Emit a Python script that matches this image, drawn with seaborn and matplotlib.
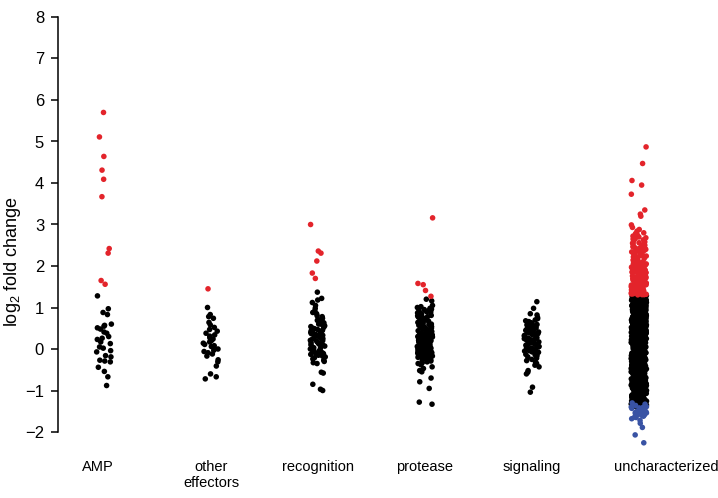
import numpy as np
import pandas as pd
import seaborn as sns
import matplotlib.pyplot as plt
from matplotlib.transforms import ScaledTranslation

categories = ["AMP", "other\neffectors", "recognition", "protease", "signaling", "uncharacterized"]

amp_up = [5.70, 5.11, 4.64, 4.31, 4.09, 3.67, 2.42, 2.31, 1.65, 1.56]
amp_ns = [1.28, 0.97, 0.88, 0.83, 0.60, 0.57, 0.55, 0.51, 0.48, 0.41, 0.38, 0.30, 0.26, 0.23,
          0.17, 0.13, 0.05, 0.02, -0.04, -0.07, -0.16, -0.19, -0.27, -0.29, -0.31, -0.44,
          -0.54, -0.67, -0.88]

oth_up = [1.45]
oth_ns = [1.00, 0.83, 0.78, 0.74, 0.64, 0.58, 0.52, 0.47, 0.43, 0.38, 0.34, 0.31, 0.27, 0.24,
          0.20, 0.17, 0.14, 0.11, 0.08, 0.06, 0.03, 0.00, -0.03, -0.06, -0.09, -0.12, -0.17,
          -0.26, -0.31, -0.41, -0.60, -0.67, -0.72]

rec_up = [3.00, 2.36, 2.31, 2.12, 1.83, 1.70]
rec_ns = [1.37, 1.22, 1.18, 1.12, 1.05, 0.98, 0.92, 0.88, 0.85, 0.80, 0.78, 0.74, 0.71, 0.69,
          0.66, 0.63, 0.61, 0.58, 0.56, 0.54, 0.52, 0.49, 0.47, 0.45, 0.43, 0.41, 0.39, 0.37,
          0.35, 0.33, 0.31, 0.29, 0.27, 0.25, 0.23, 0.21, 0.19, 0.17, 0.15, 0.13, 0.11, 0.09,
          0.07, 0.05, 0.03, 0.01, -0.01, -0.03, -0.05, -0.07, -0.09, -0.11, -0.13, -0.15,
          -0.17, -0.19, -0.21, -0.24, -0.27, -0.30, -0.33, -0.35, -0.56, -0.58, -0.85, -0.97,
          -1.00, 0.60, 0.50, 0.40, 0.30, 0.20, 0.10, 0.00, -0.10, 0.44, 0.24]

pro_up = [3.16, 1.58, 1.55, 1.41, 1.27]
pro_ns = [1.20, 1.16, 1.05, 1.02, 1.00, 0.98, 0.96, 0.95, 0.93, 0.91, 0.90, 0.88, 0.87, 0.85,
          0.84, 0.82, 0.81, 0.80, 0.78, 0.77, 0.75, 0.74, 0.73, 0.71, 0.70, 0.69, 0.67, 0.66,
          0.65, 0.63, 0.62, 0.61, 0.60, 0.58, 0.57, 0.56, 0.55, 0.53, 0.52, 0.51, 0.50, 0.49,
          0.47, 0.46, 0.45, 0.44, 0.43, 0.42, 0.40, 0.39, 0.38, 0.37, 0.36, 0.35, 0.34, 0.33,
          0.32, 0.31, 0.30, 0.29, 0.28, 0.27, 0.26, 0.25, 0.24, 0.23, 0.22, 0.21, 0.20, 0.19,
          0.18, 0.17, 0.16, 0.15, 0.14, 0.13, 0.12, 0.11, 0.10, 0.09, 0.08, 0.07, 0.06, 0.05,
          0.04, 0.03, 0.02, 0.01, 0.00, -0.01, -0.02, -0.03, -0.04, -0.05, -0.06, -0.07, -0.08,
          -0.09, -0.10, -0.11, -0.12, -0.13, -0.14, -0.16, -0.17, -0.18, -0.20, -0.21, -0.23,
          -0.24, -0.26, -0.27, -0.29, -0.31, -0.33, -0.35, -0.38, -0.43, -0.47, -0.52, -0.55,
          -0.70, -0.79, -0.95, -1.28, -1.33, 0.72, 0.64, 0.54, 0.48, 0.41, 0.35, 0.27, 0.21,
          0.15, 0.09, 0.03, -0.02, -0.09, -0.15, -0.22, 0.92, 0.83, 0.59, 0.33, 0.18, 0.06]

sig_ns = [1.14, 0.98, 0.85, 0.82, 0.76, 0.73, 0.70, 0.68, 0.66, 0.63, 0.61, 0.59, 0.57, 0.55,
          0.53, 0.51, 0.49, 0.47, 0.45, 0.43, 0.41, 0.39, 0.37, 0.35, 0.33, 0.31, 0.29, 0.27,
          0.25, 0.23, 0.21, 0.19, 0.17, 0.15, 0.13, 0.11, 0.09, 0.07, 0.05, 0.03, 0.01, -0.01,
          -0.03, -0.05, -0.07, -0.09, -0.11, -0.13, -0.16, -0.19, -0.22, -0.25, -0.28, -0.31,
          -0.35, -0.39, -0.43, -0.52, -0.56, -0.60, -0.92, -1.04, 0.64, 0.52, 0.42, 0.32, 0.22,
          0.12, 0.02, -0.08, 0.58, 0.46, 0.36, 0.26, 0.16, 0.06, -0.04, -0.14]

unc_up = [4.87, 4.47, 4.06, 3.95, 3.73, 3.35, 3.25, 3.20, 2.99, 2.93, 2.88, 2.84,
          2.80, 2.78, 2.75, 2.72, 2.70, 2.68, 2.66, 2.63, 2.61, 2.58, 2.56, 2.54, 2.52, 2.50,
          2.48, 2.46, 2.44, 2.42, 2.40, 2.38, 2.36, 2.34, 2.32, 2.30, 2.28, 2.26, 2.24, 2.22,
          2.20, 2.18, 2.16, 2.14, 2.12, 2.10, 2.65, 2.55, 2.45, 2.35, 2.25, 2.15, 2.41, 2.31, 2.21,
          2.09, 2.08, 2.07, 2.06, 2.05, 2.04, 2.03, 2.02, 2.01, 2.00, 1.99, 1.98, 1.97, 1.96,
          1.95, 1.94, 1.93, 1.92, 1.91, 1.90, 1.89, 1.88, 1.87, 1.86, 1.85, 1.84, 1.83, 1.82,
          1.81, 1.80, 1.79, 1.78, 1.77, 1.76, 1.75, 1.74, 1.73, 1.72, 1.71, 1.70, 1.69, 1.68,
          1.67, 1.66, 1.65, 1.64, 1.63, 1.62, 1.61, 1.60, 1.59, 1.58, 1.57, 1.56, 1.55, 1.54,
          1.53, 1.52, 1.51, 1.50, 1.49, 1.48, 1.47, 1.46, 1.45, 1.44, 1.43, 1.42, 1.41, 1.40,
          1.39, 1.38, 1.37, 1.36, 1.35, 1.34, 1.33, 1.32, 1.31, 2.05, 1.97, 1.92, 1.86, 1.81,
          1.76, 1.71, 1.66, 1.61, 1.57, 1.53, 1.49, 1.45, 1.42, 1.39, 1.36, 1.34, 1.32, 1.31,
          1.33, 1.35, 1.37, 1.41, 1.44, 1.47, 1.51, 1.55, 1.59, 1.63, 1.68, 1.73, 1.78, 1.84,
          1.89, 1.95, 1.305, 1.325, 1.345, 1.365, 1.385, 1.405, 1.425, 1.455, 1.485, 1.515,
          1.545, 1.575, 1.605, 1.635, 1.665, 1.695, 1.725, 1.755, 1.785, 1.815, 1.845, 1.875,
          1.905, 1.935, 1.965, 1.995, 2.035, 2.075]
unc_ns = [1.30, 1.30, 1.29, 1.28, 1.28, 1.27, 1.26, 1.26, 1.25, 1.24, 1.24, 1.23, 1.22, 1.22, 1.21, 1.20, 1.20, 1.19, 1.18, 1.18,
          1.17, 1.16, 1.16, 1.15, 1.14, 1.14, 1.13, 1.12, 1.12, 1.11, 1.10, 1.10, 1.09, 1.08, 1.08, 1.07, 1.06, 1.06, 1.05, 1.04,
          1.04, 1.03, 1.02, 1.02, 1.01, 1.00, 1.00, 0.99, 0.98, 0.98, 0.97, 0.96, 0.96, 0.95, 0.94, 0.94, 0.93, 0.92, 0.92, 0.91,
          0.90, 0.90, 0.89, 0.88, 0.88, 0.87, 0.86, 0.86, 0.85, 0.84, 0.84, 0.83, 0.82, 0.82, 0.81, 0.80, 0.80, 0.79, 0.78, 0.78,
          0.77, 0.76, 0.76, 0.75, 0.74, 0.74, 0.73, 0.72, 0.72, 0.71, 0.70, 0.70, 0.69, 0.68, 0.68, 0.67, 0.66, 0.66, 0.65, 0.64,
          0.64, 0.63, 0.62, 0.62, 0.61, 0.60, 0.60, 0.59, 0.58, 0.58, 0.57, 0.56, 0.56, 0.55, 0.54, 0.54, 0.53, 0.52, 0.52, 0.51,
          0.50, 0.50, 0.49, 0.48, 0.48, 0.47, 0.46, 0.46, 0.45, 0.44, 0.44, 0.43, 0.42, 0.42, 0.41, 0.40, 0.40, 0.39, 0.38, 0.38,
          0.37, 0.36, 0.36, 0.35, 0.34, 0.34, 0.33, 0.32, 0.32, 0.31, 0.30, 0.30, 0.29, 0.28, 0.28, 0.27, 0.26, 0.26, 0.25, 0.24,
          0.24, 0.23, 0.22, 0.22, 0.21, 0.20, 0.20, 0.19, 0.18, 0.18, 0.17, 0.16, 0.16, 0.15, 0.14, 0.14, 0.13, 0.12, 0.12, 0.11,
          0.10, 0.10, 0.09, 0.08, 0.08, 0.07, 0.06, 0.06, 0.05, 0.04, 0.04, 0.03, 0.02, 0.02, 0.01, 0.00, 0.00, -0.01, -0.02, -0.02,
          -0.03, -0.04, -0.04, -0.05, -0.06, -0.06, -0.07, -0.08, -0.08, -0.09, -0.10, -0.10, -0.11, -0.12, -0.12, -0.13, -0.14, -0.14, -0.15, -0.16,
          -0.16, -0.17, -0.18, -0.18, -0.19, -0.20, -0.20, -0.21, -0.22, -0.22, -0.23, -0.24, -0.24, -0.25, -0.26, -0.26, -0.27, -0.28, -0.28, -0.29,
          -0.30, -0.30, -0.31, -0.32, -0.32, -0.33, -0.34, -0.34, -0.35, -0.36, -0.36, -0.37, -0.38, -0.38, -0.39, -0.40, -0.40, -0.41, -0.42, -0.42,
          -0.43, -0.44, -0.44, -0.45, -0.46, -0.46, -0.47, -0.48, -0.48, -0.49, -0.50, -0.50, -0.51, -0.52, -0.52, -0.53, -0.54, -0.54, -0.55, -0.56,
          -0.56, -0.57, -0.58, -0.58, -0.59, -0.60, -0.60, -0.61, -0.62, -0.62, -0.63, -0.64, -0.64, -0.65, -0.66, -0.66, -0.67, -0.68, -0.68, -0.69,
          -0.70, -0.70, -0.71, -0.72, -0.72, -0.73, -0.74, -0.74, -0.75, -0.76, -0.76, -0.77, -0.78, -0.78, -0.79, -0.80, -0.80, -0.81, -0.82, -0.82,
          -0.83, -0.84, -0.84, -0.85, -0.86, -0.86, -0.87, -0.88, -0.88, -0.89, -0.90, -0.90, -0.91, -0.92, -0.92, -0.93, -0.94, -0.94, -0.95, -0.96,
          -0.96, -0.97, -0.98, -0.98, -0.99, -1.00, -1.00, -1.01, -1.02, -1.02, -1.03, -1.04, -1.04, -1.05, -1.06, -1.06, -1.07, -1.08, -1.08, -1.09,
          -1.10, -1.10, -1.11, -1.12, -1.12, -1.13, -1.14, -1.14, -1.15, -1.16, -1.16, -1.17, -1.18, -1.18, -1.19, -1.20, -1.20, -1.21, -1.22, -1.22,
          -1.23, -1.24, -1.24, -1.25, -1.26, -1.26, -1.27, -1.28, -1.28, -1.29, -1.30, -1.30, -1.31, -1.32, -1.32, -1.33, -1.34, -1.34, -1.35, -1.36,
          -1.36, -1.37, -1.38, -1.38,
          0.95, 0.85, 0.75, 0.65, 0.55, 0.45, 0.35, 0.25, 0.15, 0.05, -0.05, -0.15, -0.25, -0.35, -0.45,
          -0.55, -0.65, -0.75, -0.85, -0.95, 1.05, 1.15, 1.25, -1.05, -1.15, -1.25, -1.35, 0.57, 0.43,
          0.33, 0.17, 0.03, -0.13, -0.27, -0.33, -0.47, 0.67, 0.73, 0.87, 0.93, -0.67, -0.73, -0.87,
          -0.93, 1.27, 1.13, 1.07, -1.07, -1.13, -1.27, -1.33,
          1.295, 1.285, 1.265, 1.255, 1.235, 1.215, 1.195, 1.175, 1.165, 1.145, 1.125, 1.105, 1.095,
          1.075, 1.055, 1.035, 1.015, 0.995, 0.985, 0.965, 0.945, 0.925, 0.905, 0.895, 0.875, 0.855,
          0.835, 0.815, 0.805, 0.785, 0.765, 0.745, 0.725, 0.715, 0.695, 0.675, 0.655, 0.635, 0.625,
          0.605, 0.585, 0.565, 0.545, 0.535, 0.515, 0.495, 0.475, 0.455, 0.445, 0.425, 0.405, 0.385,
          0.365, 0.355, 0.335, 0.315, 0.295, 0.275, 0.265, 0.245, 0.225, 0.205, 0.185, 0.175, 0.155,
          0.135, 0.115, 0.095, 0.085, 0.065, 0.045, 0.025, 0.005, -0.005, -0.025, -0.045, -0.065,
          -0.085, -0.095, -0.115, -0.135, -0.155, -0.175, -0.185, -0.205, -0.225, -0.245, -0.265,
          -0.275, -0.295, -0.315, -0.335, -0.355, -0.365, -0.385, -0.405, -0.425, -0.445, -0.455,
          -0.475, -0.495, -0.515, -0.535, -0.545, -0.565, -0.585, -0.605, -0.625, -0.635, -0.655,
          -0.675, -0.695, -0.715, -0.725, -0.745, -0.765, -0.785, -0.805, -0.815, -0.835, -0.855,
          -0.875, -0.895, -0.905, -0.925, -0.945, -0.965, -0.985, -0.995, -1.015, -1.035, -1.055,
          -1.075, -1.085, -1.105, -1.125, -1.145, -1.165, -1.175, -1.195, -1.215, -1.235, -1.255,
          -1.265, -1.285, -1.305, -1.325, -1.345, -1.355, -1.375]
unc_down = [-1.30, -1.33, -1.36, -1.39, -1.40, -1.41, -1.42, -1.43, -1.44, -1.45, -1.46, -1.47,
            -1.48, -1.49, -1.50, -1.51, -1.52, -1.53, -1.54, -1.56, -1.58, -1.60, -1.62, -1.65,
            -1.68, -1.72, -1.79, -1.89, -2.07, -2.26, -1.41, -1.44, -1.47, -1.50, -1.55, -1.59, -1.64]

rows = []
def add(cat, vals, status):
    rows.extend((cat, v, status) for v in vals)

add(categories[0], amp_ns, "ns"); add(categories[0], amp_up, "up")
add(categories[1], oth_ns, "ns"); add(categories[1], oth_up, "up")
add(categories[2], rec_ns, "ns"); add(categories[2], rec_up, "up")
add(categories[3], pro_ns, "ns"); add(categories[3], pro_up, "up")
add(categories[4], sig_ns, "ns")
add(categories[5], unc_ns, "ns"); add(categories[5], unc_up, "up"); add(categories[5], unc_down, "down")
df = pd.DataFrame(rows, columns=["category", "log2fc", "status"])

sns.set_theme(style="ticks")
plt.rcParams['font.family'] = ['Liberation Sans', 'DejaVu Sans']
plt.rcParams['mathtext.default'] = 'regular'

fig = plt.figure(figsize=(7.18, 4.98), dpi=100)
ax = fig.add_axes([58 / 718, 1 - 432 / 498, 660 / 718, 415 / 498])

np.random.seed(7)
sns.stripplot(data=df, x="category", y="log2fc", hue="status", order=categories,
              hue_order=["ns", "up", "down"],
              palette={"ns": "black", "up": "#E3242B", "down": "#3953A4"},
              jitter=0.072, size=4.0, linewidth=0, legend=False, ax=ax)
for c in ax.collections:
    c.set_clip_on(False)

ax.set_ylim(-2, 8)
ax.set_xlim(-0.43, 5.74)
ax.set_yticks(range(-2, 9))
sns.despine(ax=ax, bottom=True)
ax.spines['left'].set_color('black')
ax.spines['left'].set_linewidth(1.1)
ax.tick_params(axis='x', length=0, pad=20, labelsize=10.5, colors='black')
ax.tick_params(axis='y', length=5, width=1.1, pad=5, labelsize=12, colors='black')
ax.set_xlabel('')
ax.set_ylabel(r'log$_2$ fold change', fontsize=13, color='black')
ax.yaxis.set_label_coords(-0.053, 0.41)

offsets = {0: -6, 5: 27}
for i, lab in enumerate(ax.get_xticklabels()):
    if i in offsets:
        lab.set_transform(lab.get_transform() + ScaledTranslation(offsets[i] / 100, 0, fig.dpi_scale_trans))

fig.savefig("out.png", dpi=100)
